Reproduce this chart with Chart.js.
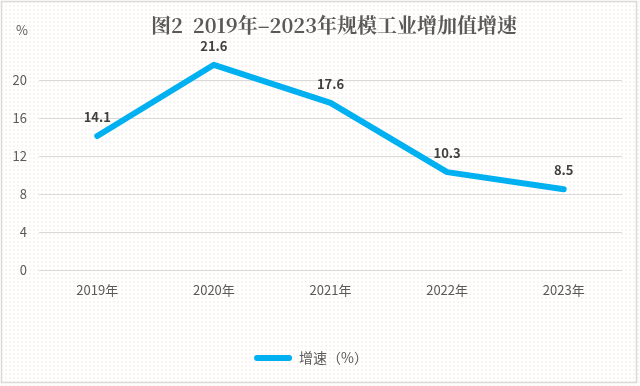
<!DOCTYPE html>
<html>
<head>
<meta charset="utf-8">
<script src="https://cdn.jsdelivr.net/npm/chart.js@4/dist/chart.umd.min.js"></script>
<style>
  html, body { margin: 0; padding: 0; background: #fff; }
  #wrap {
    width: 640px; height: 386px;
    background-color: #fff;
    background-image: radial-gradient(#f6e6d8 0.6px, transparent 0.8px);
    background-size: 4px 4px;
  }
</style>
</head>
<body>
<div id="wrap"><canvas id="myChart" width="640" height="386"></canvas></div>
<script>
const years = ["2019年", "2020年", "2021年", "2022年", "2023年"];
const growth = [14.1, 21.6, 17.6, 10.3, 8.5];
const yTicks = [0, 4, 8, 12, 16, 20];

const titleText = "图2  2019年–2023年规模工业增加值增速";
const cjk = '"Noto Sans CJK SC", "Noto Sans", sans-serif';

// title, "%" unit, outer frame and point labels
const decorations = {
  id: "decorations",
  beforeDraw(chart) {
    const c = chart.ctx;
    c.save();
    c.strokeStyle = "#d9d9d9";
    c.lineWidth = 1.5;
    c.strokeRect(1.5, 1.5, 635, 381);
    c.restore();
  },
  afterDraw(chart) {
    const c = chart.ctx;
    c.save();
    c.font = "bold 20px " + '"Noto Serif CJK SC", "Noto Sans CJK SC", serif';
    c.fillStyle = "#595959";
    c.textAlign = "center";
    c.textBaseline = "middle";
    c.fillText(titleText, 334, 25);

    c.font = "13px " + cjk;
    c.fillText("%", 22, 30);

    const meta = chart.getDatasetMeta(0);
    c.font = "bold 13px " + cjk;
    c.fillStyle = "#404040";
    meta.data.forEach((pt, i) => {
      c.fillText(growth[i].toFixed(1), pt.x, pt.y - 19);
    });
    c.restore();
  },
};

new Chart(document.getElementById("myChart"), {
  type: "line",
  data: {
    labels: years,
    datasets: [
      {
        label: "增速（%）",
        data: growth,
        borderColor: "#00B0F0",
        backgroundColor: "#00B0F0",
        borderWidth: 6,
        borderCapStyle: "round",
        borderJoinStyle: "round",
        tension: 0,
        pointRadius: 0,
        fill: false,
      },
    ],
  },
  options: {
    responsive: false,
    animation: false,
    layout: { padding: { top: 42, right: 18, bottom: 11, left: 0 } },
    plugins: {
      title: { display: false },
      tooltip: { enabled: false },
      legend: {
        position: "bottom",
        labels: {
          color: "#595959",
          font: { size: 14, family: cjk },
          boxWidth: 38,
          boxHeight: 6,
          padding: 10,
          useBorderRadius: true,
          borderRadius: 3,
          generateLabels(chart) {
            return Chart.defaults.plugins.legend.labels.generateLabels(chart).map((l) => {
              l.lineWidth = 0;
              l.strokeStyle = "rgba(0,0,0,0)";
              return l;
            });
          },
        },
      },
    },
    scales: {
      x: {
        offset: true,
        grid: { display: false },
        border: { display: false },
        ticks: { color: "#595959", font: { size: 13, family: cjk }, padding: 4 },
        afterFit(scale) { scale.height = 71; },
      },
      y: {
        min: 0,
        max: 24,
        afterBuildTicks(scale) {
          scale.ticks = yTicks.map((v) => ({ value: v }));
        },
        grid: { color: "#d9d9d9", lineWidth: 1, drawTicks: false },
        border: { display: false },
        ticks: { color: "#595959", font: { size: 13, family: cjk }, padding: 12 },
        afterFit(scale) { scale.width = 39; },
      },
    },
  },
  plugins: [decorations],
});
</script>
</body>
</html>
